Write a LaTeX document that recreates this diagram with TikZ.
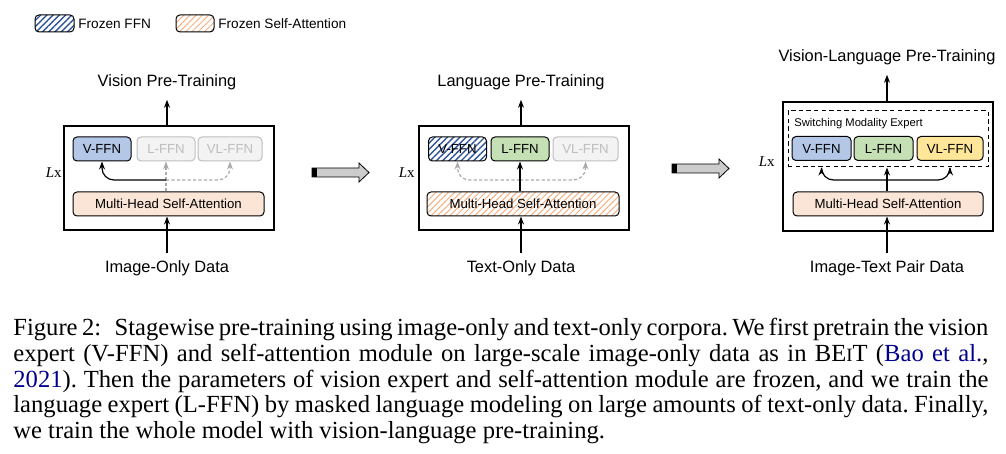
\documentclass[tikz,border=0pt]{standalone}
\usepackage{fontspec}
\setmainfont{Liberation Serif}
\setsansfont{Liberation Sans}
\usetikzlibrary{arrows.meta,patterns.meta,positioning}
\definecolor{ffnblue}{RGB}{180,199,231}
\definecolor{ffngreen}{RGB}{197,224,180}
\definecolor{ffnyellow}{RGB}{255,230,153}
\definecolor{attnfill}{RGB}{251,229,214}
\definecolor{hatchblue}{RGB}{47,85,151}
\definecolor{hatchorange}{RGB}{244,177,131}
\definecolor{offgray}{RGB}{190,190,190}
\definecolor{offfill}{RGB}{243,243,243}
\definecolor{ghostgray}{RGB}{170,170,170}
\definecolor{citeblue}{RGB}{0,0,139}
\frenchspacing

\begin{document}
\begin{tikzpicture}[x=0.5pt,y=-0.5pt,
    outer/.style={draw, line width=0.6pt, minimum width=105pt, inner sep=0pt},
    ffn/.style={draw, rounded corners=2pt, line width=0.5pt, minimum height=12pt,
      minimum width=29pt, inner sep=0pt, font=\sffamily\fontsize{6.6}{7}\selectfont},
    ffnoff/.style={ffn, draw=offgray, fill=offfill, text=offgray},
    attn/.style={ffn, fill=attnfill, minimum width=95.5pt},
    hatchffn/.style={ffn, pattern={Lines[angle=45,distance=2.2pt,line width=0.7pt]},
      pattern color=hatchblue},
    hatchattn/.style={attn, pattern={Lines[angle=45,distance=2.2pt,line width=0.5pt]},
      pattern color=hatchorange},
    stage/.style={font=\sffamily\fontsize{8.2}{9}\selectfont, inner sep=0pt},
    layers/.style={font=\fontsize{7.5}{8}\selectfont, inner sep=0pt},
    legendtxt/.style={font=\sffamily\fontsize{6.8}{7}\selectfont, inner sep=0pt},
    arr/.style={-{Stealth[length=4pt,width=3pt]}, line width=0.6pt},
    ghost/.style={arr, draw=ghostgray, dash pattern=on 1.6pt off 1.1pt},
    bigarrow/.style={fill=gray!40, draw=black, line width=0.4pt},
    capline/.style={anchor=base west, inner sep=0pt, font=\fontsize{12.3}{13}\selectfont}]
  \useasboundingbox (0,0) rectangle (1006,454);

  % legend
  \node[ffn, minimum width=19.5pt, minimum height=8.5pt,
    pattern={Lines[angle=45,distance=2.2pt,line width=0.7pt]},
    pattern color=hatchblue] (keyffn) at (54.5,23.5) {};
  \node[legendtxt, anchor=west] (keyffntxt) at (78,23.5) {Frozen FFN};
  \node[ffn, minimum width=19pt, minimum height=8.5pt,
    pattern={Lines[angle=45,distance=2.2pt,line width=0.5pt]},
    pattern color=hatchorange] (keyattn) at (195,23.5) {};
  \node[legendtxt, anchor=west] (keyattntxt) at (218,23.5) {Frozen Self-Attention};

  % stage 1: vision
  \node[outer, minimum height=52pt] (box1) at (169,178) {};
  \node[ffn, fill=ffnblue] (vffn1) at (102,149) {V-FFN};
  \node[ffnoff] (lffn1) at (166,149) {L-FFN};
  \node[ffnoff, minimum width=32pt] (vlffn1) at (230,149) {VL-FFN};
  \node[attn] (mhsa1) at (168.5,204) {Multi-Head Self-Attention};
  \node[layers, anchor=east] (lx1) at (62,173) {\textit{L}x};
  \node[stage, anchor=base] (out1) at (167,87) {Vision Pre-Training};
  \node[stage, anchor=base] (in1) at (167,272) {Image-Only Data};
  \coordinate (j1) at (166,180);
  \draw[ghost] (lffn1.south |- mhsa1.north) -- (lffn1.south);
  \draw[ghost, rounded corners=6pt] (j1) -| (vlffn1.south);
  \draw[arr, rounded corners=6pt] (j1) -| (vffn1.south);
  \draw[arr, shorten >=4.5pt] (box1.north -| out1) -- (out1.south);
  \draw[arr, shorten <=3.5pt] (in1.north) -- (in1.north |- mhsa1.south);

  % big arrow 1
  \draw[bigarrow] (312,168) -- (359,168) -- (359,163) -- (369,172.5)
    -- (359,182) -- (359,177) -- (312,177) -- cycle;
  \fill (312,168) rectangle (317,177);

  % stage 2: language
  \node[outer, minimum height=52pt] (box2) at (524,178) {};
  \node[hatchffn] (vffn2) at (457.5,149) {V-FFN};
  \node[ffn, fill=ffngreen] (lffn2) at (520,149) {L-FFN};
  \node[ffnoff, minimum width=32.5pt] (vlffn2) at (585.5,149) {VL-FFN};
  \node[hatchattn, minimum width=96pt] (mhsa2) at (523,204) {Multi-Head Self-Attention};
  \node[layers, anchor=east] (lx2) at (415,173) {\textit{L}x};
  \node[stage, anchor=base] (out2) at (521,87) {Language Pre-Training};
  \node[stage, anchor=base] (in2) at (521,272) {Text-Only Data};
  \coordinate (j2) at (520,180);
  \draw[ghost, rounded corners=6pt] (j2) -| (vffn2.south);
  \draw[ghost, rounded corners=6pt] (j2) -| (vlffn2.south);
  \draw[arr] (lffn2.south |- mhsa2.north) -- (lffn2.south);
  \draw[arr, shorten >=4.5pt] (box2.north -| out2) -- (out2.south);
  \draw[arr, shorten <=3.5pt] (in2.north) -- (in2.north |- mhsa2.south);

  % big arrow 2
  \draw[bigarrow] (672,164) -- (719,164) -- (719,159) -- (729,168.5)
    -- (719,178) -- (719,173) -- (672,173) -- cycle;
  \fill (672,164) rectangle (677,173);

  % stage 3: vision-language
  \node[outer, minimum height=64.5pt] (box3) at (888,166.5) {};
  \node[draw, dash pattern=on 2.2pt off 1.6pt, line width=0.5pt, minimum width=100pt,
    minimum height=28pt, inner sep=0pt] (expert) at (888,139) {};
  \node[anchor=west, inner sep=0pt, font=\sffamily\fontsize{5.6}{6}\selectfont]
    (experttxt) at (794,124) {Switching Modality Expert};
  \node[ffn, fill=ffnblue, minimum width=29.5pt] (vffn3) at (821.5,148.5) {V-FFN};
  \node[ffn, fill=ffngreen, minimum width=29.5pt] (lffn3) at (883.5,148.5) {L-FFN};
  \node[ffn, fill=ffnyellow, minimum width=33pt] (vlffn3) at (950,148.5) {VL-FFN};
  \node[attn, minimum width=95pt] (mhsa3) at (888,204) {Multi-Head Self-Attention};
  \node[layers, anchor=east] (lx3) at (775,162) {\textit{L}x};
  \node[stage, anchor=base] (out3) at (887,62) {Vision-Language Pre-Training};
  \node[stage, anchor=base] (in3) at (887,272) {Image-Text Pair Data};
  \coordinate (j3) at (887,180);
  \draw[arr] (j3 |- mhsa3.north) -- (j3 |- expert.south);
  \draw[arr, rounded corners=6pt] (j3) -| (vffn3.south |- expert.south);
  \draw[arr, rounded corners=6pt] (j3) -| (vlffn3.south |- expert.south);
  \draw[arr, shorten >=4.5pt] (box3.north -| out3) -- (out3.south);
  \draw[arr, shorten <=3.5pt] (in3.north) -- (in3.north |- mhsa3.south);

  % caption
  \node[capline] (cap1) at (13,335) {\makebox[487.5pt][s]{Figure 2:\hspace{0.55em}Stagewise pre-training using image-only and text-only corpora. We first pretrain the vision}};
  \node[capline] (cap2) at (13,361) {\makebox[487.5pt][s]{expert (V-FFN) and self-attention module on large-scale image-only data as in BE{\fontsize{9.4}{10}\selectfont I}T (\textcolor{citeblue}{Bao et al.},}};
  \node[capline] (cap3) at (13,387) {\makebox[487.5pt][s]{\textcolor{citeblue}{2021}). Then the parameters of vision expert and self-attention module are frozen, and we train the}};
  \node[capline] (cap4) at (13,412) {\makebox[487.5pt][s]{language expert (L-FFN) by masked language modeling on large amounts of text-only data. Finally,}};
  \node[capline] (cap5) at (13,438) {we train the whole model with vision-language pre-training.};
\end{tikzpicture}
\end{document}
